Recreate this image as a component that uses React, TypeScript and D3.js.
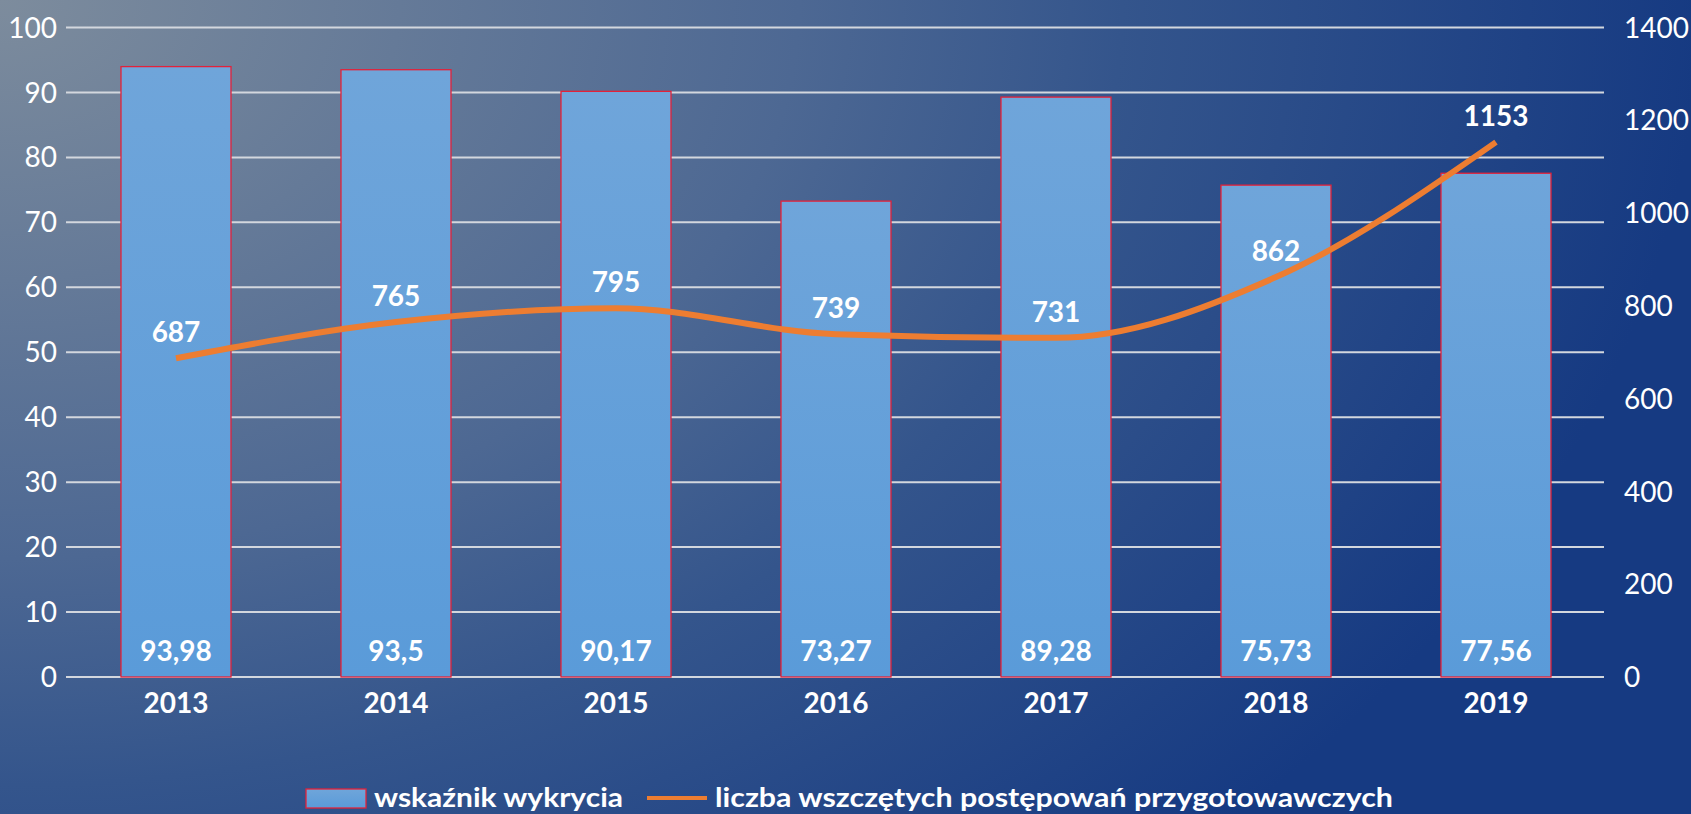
import React from "react";
import * as d3 from "d3";

const years = ["2013", "2014", "2015", "2016", "2017", "2018", "2019"];
const detectionRate = [93.98, 93.5, 90.17, 73.27, 89.28, 75.73, 77.56];
const detectionLabels = ["93,98", "93,5", "90,17", "73,27", "89,28", "75,73", "77,56"];
const proceedings = [687, 765, 795, 739, 731, 862, 1153];
const leftTicks = [0, 10, 20, 30, 40, 50, 60, 70, 80, 90, 100];
const rightTicks = [0, 200, 400, 600, 800, 1000, 1200, 1400];
const legendBarLabel = "wskaźnik wykrycia";
const legendLineLabel = "liczba wszczętych postępowań przygotowawczych";

const W = 1691;
const H = 814;
const FONT = "Lato, 'Open Sans', sans-serif";

export default function App() {
  React.useEffect(() => {
    document.body.style.margin = "0";
  }, []);

  const x = d3.scaleBand<string>().domain(years).range([66, 1606]).paddingInner(0.5).paddingOuter(0.25);
  const yL = d3.scaleLinear().domain([0, 100]).range([677, 27.5]);
  const yR = d3.scaleLinear().domain([0, 1400]).range([677, 27.5]);
  const cx = (y: string) => (x(y) as number) + x.bandwidth() / 2;

  const line = d3
    .line<number>()
    .x((_, i) => cx(years[i]))
    .y((d) => yR(d))
    .curve(d3.curveMonotoneX);

  return (
    <svg width={W} height={H} style={{ position: "absolute", left: 0, top: 0, display: "block" }}>
      <defs>
        <radialGradient id="bg" gradientUnits="userSpaceOnUse" cx={0} cy={0} r={1700} gradientTransform="scale(1,0.7)">
          <stop offset="0" stopColor="#7d8c9d" />
          <stop offset="0.47" stopColor="#4d6893" />
          <stop offset="0.66" stopColor="#34558c" />
          <stop offset="1" stopColor="#163a82" />
        </radialGradient>
        <linearGradient id="bar" x1="0" y1="0" x2="0" y2="1">
          <stop offset="0" stopColor="#6fa5da" />
          <stop offset="1" stopColor="#5a9bd9" />
        </linearGradient>
      </defs>
      <rect x={0} y={0} width={W} height={H} fill="url(#bg)" />

      {/* gridlines */}
      {leftTicks.map((t) => (
        <line key={t} x1={66} x2={1604} y1={yL(t)} y2={yL(t)} stroke="#d3d7de" strokeWidth={2} />
      ))}

      {/* left axis labels */}
      {leftTicks.map((t) => (
        <text key={t} x={57} y={yL(t)} dy="0.36em" textAnchor="end" fill="#ffffff" fontFamily={FONT} fontSize={28}>
          {t}
        </text>
      ))}

      {/* right axis labels */}
      {rightTicks.map((t) => (
        <text key={t} x={1624} y={yR(t)} dy="0.36em" textAnchor="start" fill="#ffffff" fontFamily={FONT} fontSize={28}>
          {t}
        </text>
      ))}

      {/* bars */}
      {years.map((yr, i) => (
        <rect
          key={yr}
          x={x(yr)}
          y={yL(detectionRate[i])}
          width={x.bandwidth()}
          height={yL(0) - yL(detectionRate[i])}
          fill="url(#bar)"
          stroke="#e3223a"
          strokeWidth={1.3}
        />
      ))}

      {/* bar value labels */}
      {years.map((yr, i) => (
        <text key={yr} x={cx(yr)} y={661} textAnchor="middle" fill="#ffffff" fontFamily={FONT} fontWeight={700} fontSize={28}>
          {detectionLabels[i]}
        </text>
      ))}

      {/* category labels */}
      {years.map((yr) => (
        <text key={yr} x={cx(yr)} y={713} textAnchor="middle" fill="#ffffff" fontFamily={FONT} fontWeight={700} fontSize={28}>
          {yr}
        </text>
      ))}

      {/* line */}
      <path d={line(proceedings) || ""} fill="none" stroke="#ed7d31" strokeWidth={6} strokeLinecap="butt" strokeLinejoin="round" />

      {/* line labels */}
      {years.map((yr, i) => (
        <text key={yr} x={cx(yr)} y={yR(proceedings[i]) - 16} textAnchor="middle" fill="#ffffff" fontFamily={FONT} fontWeight={700} fontSize={28}>
          {proceedings[i]}
        </text>
      ))}

      {/* legend */}
      <rect x={306} y={789} width={60} height={19} fill="url(#bar)" stroke="#e3223a" strokeWidth={1.3} />
      <text x={374} y={807} fill="#ffffff" fontFamily={FONT} fontWeight={700} fontSize={27} textLength={249} lengthAdjust="spacingAndGlyphs">
        {legendBarLabel}
      </text>
      <line x1={647} x2={707} y1={798} y2={798} stroke="#ed7d31" strokeWidth={4} />
      <text x={715} y={807} fill="#ffffff" fontFamily={FONT} fontWeight={700} fontSize={27} textLength={678} lengthAdjust="spacingAndGlyphs">
        {legendLineLabel}
      </text>
    </svg>
  );
}
